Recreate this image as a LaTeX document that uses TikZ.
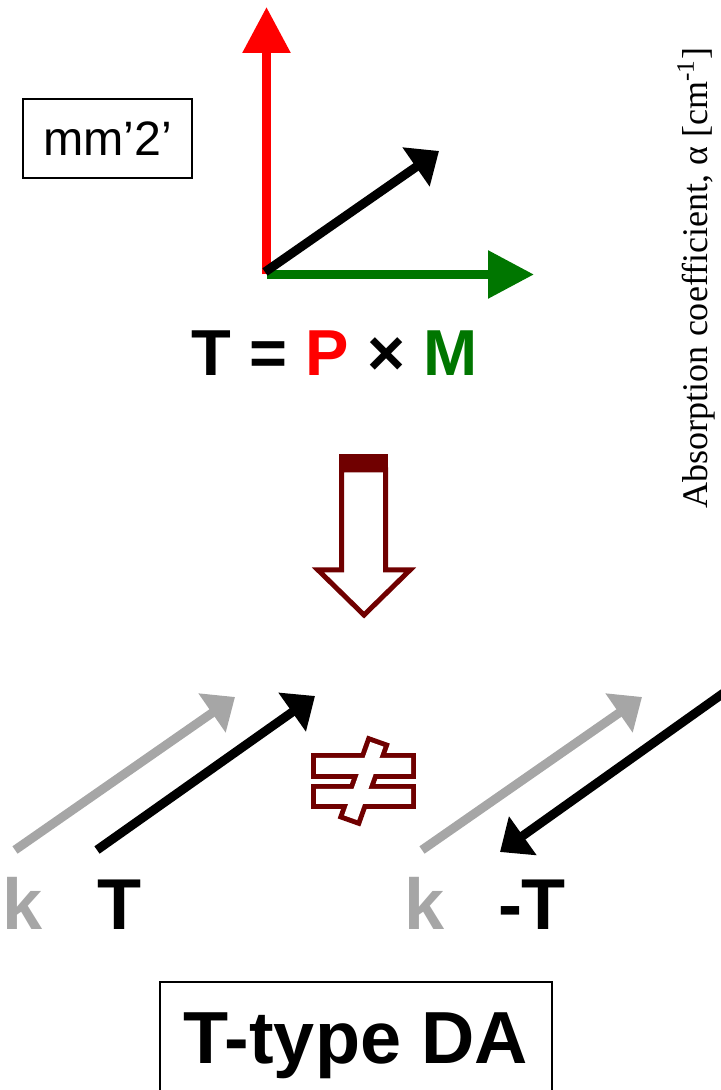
\documentclass[tikz,border=0pt]{standalone}
\usepackage{fontspec}
\setmainfont{Liberation Sans}
\newfontfamily\axisfont{Liberation Serif}
\definecolor{daRed}{RGB}{255, 0, 0}
\definecolor{daGreen}{RGB}{0, 118, 0}
\definecolor{daMaroon}{RGB}{112, 0, 0}
\definecolor{daGray}{RGB}{166, 166, 166}
\usetikzlibrary{arrows.meta}
\tikzset{
  axisarrow/.style={line width=0.18cm, #1, -{Triangle[length=0.92cm, width=0.92cm]}},
  vecarrow/.style={line width=0.18cm, #1, -{Triangle[length=0.56cm, width=0.92cm]}},
  vecarrow/.default=black,
  symbox/.style={rectangle, draw, line width=0.04cm, inner sep=0pt, align=center},
  biglabel/.style={text=#1, font=\fontsize{41}{48}\selectfont\bfseries, anchor=base, inner sep=0pt},
  biglabel/.default=black,
  hollow/.style={draw=daMaroon, line width=0.1cm, fill=white, line join=miter},
  hollowring/.style={draw=daMaroon, line width=0.2cm, line join=miter},
}
\begin{document}
\begin{tikzpicture}
  \useasboundingbox (0, 0) rectangle (14.4, 21.8);

  \node[symbox, minimum width=3.38cm, minimum height=1.58cm, font=\fontsize{27.5}{32}\selectfont] (sym) at (2.15, 19.03) {mm’2’};

  \coordinate (O) at (5.33, 16.31);
  \coordinate (P) at (5.33, 21.66);
  \coordinate (M) at (10.68, 16.31);
  \coordinate (T0) at (5.30, 16.36);
  \coordinate (T) at (8.78, 18.78);
  \draw[axisarrow=daRed] (O) -- (P);
  \draw[axisarrow=daGreen] (O) -- (M);
  \draw[vecarrow] (T0) -- (T);

  \node[font=\fontsize{37}{44}\selectfont\bfseries, anchor=base, inner sep=0pt] (eq) at (6.69, 14.28) {T = \textcolor{daRed}{P} × \textcolor{daGreen}{M}};

  \fill[daMaroon] (6.78, 12.38) rectangle (7.76, 12.72);
  \draw[hollow] (6.83, 12.4) -- (7.71, 12.4) -- (7.71, 10.4) -- (8.2, 10.4) -- (7.28, 9.5) -- (6.36, 10.4) -- (6.83, 10.4) -- cycle;

  \begin{scope}[shift={(7.275, 6.18)}]
    \draw[hollowring] (-0.955, 0.14) rectangle (0.945, 0.46) (-0.955, -0.46) rectangle (0.945, -0.16);
    \draw[hollowring, rotate=70.4] (-0.78, -0.14) rectangle (0.78, 0.14);
    \fill[white] (-0.955, 0.14) rectangle (0.945, 0.46) (-0.955, -0.46) rectangle (0.945, -0.16);
    \fill[white, rotate=70.4] (-0.78, -0.14) rectangle (0.78, 0.14);
  \end{scope}

  \coordinate (k1s) at (0.30, 4.80);
  \coordinate (k1e) at (4.70, 7.86);
  \coordinate (t1s) at (1.94, 4.80);
  \coordinate (t1e) at (6.30, 7.88);
  \coordinate (k2s) at (8.44, 4.80);
  \coordinate (k2e) at (12.84, 7.86);
  \coordinate (t2s) at (14.50, 7.96);
  \coordinate (t2e) at (10.00, 4.76);
  \draw[vecarrow=daGray] (k1s) -- (k1e);
  \draw[vecarrow] (t1s) -- (t1e);
  \draw[vecarrow=daGray] (k2s) -- (k2e);
  \draw[vecarrow] (t2s) -- (t2e);

  \node[biglabel=daGray] (k1) at (0.46, 3.2) {k};
  \node[biglabel] (t1) at (2.40, 3.2) {T};
  \node[biglabel=daGray] (k2) at (8.50, 3.2) {k};
  \node[biglabel] (t2) at (10.64, 3.2) {-T};

  \node[symbox, font=\fontsize{42}{50}\selectfont\bfseries, minimum width=7.84cm, text height=1.62cm, text depth=1cm, anchor=base] (type) at (7.12, 0.54) {T-type DA};

  \node[rotate=90, anchor=base, inner sep=0pt, font=\axisfont\fontsize{20.5}{24}\selectfont] (alpha) at (14.14, 16.24) {Absorption coefficient, α [cm\textsuperscript{-1}]};
\end{tikzpicture}
\end{document}
